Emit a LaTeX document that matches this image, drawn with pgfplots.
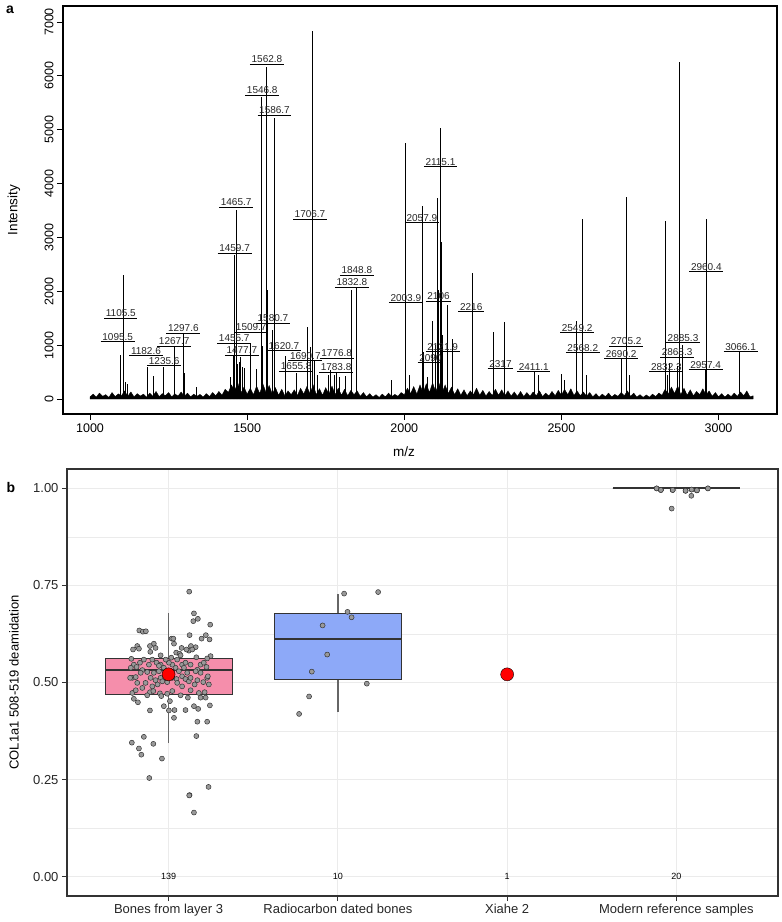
\documentclass[border=0pt]{standalone}
\usepackage{fontspec}
\setmainfont{Liberation Sans}
\usepackage{pgfplots}
\pgfplotsset{compat=1.18}
\usepgfplotslibrary{statistics}

\definecolor{gridc}{HTML}{EBEBEB}
\definecolor{pinkbox}{HTML}{F58EAB}
\definecolor{bluebox}{HTML}{8DA9F8}
\definecolor{ggdark}{HTML}{333333}

% peak label: text sitting on a short bar
\newcommand\pk[3]{\node[anchor=south, inner xsep=1.5pt, inner ysep=1pt,
  font=\fontsize{10}{11}\selectfont, text=black!85] (pk) at (axis cs:#1,#2) {#3};
  \draw[line width=0.9pt] (pk.south west) -- (pk.south east);}

\begin{document}
\begin{tikzpicture}[x=1pt, y=1pt]
\path[use as bounding box] (0,0) rectangle (782,922);

% ---------------- (a) spectrum ----------------
\begin{axis}[at={(63pt,508pt)}, anchor=south west, scale only axis,
  width=714pt, height=408pt,
  xmin=914, xmax=3186, ymin=-278, ymax=7297,
  xtick={1000,1500,...,3000}, ytick={0,1000,...,7000},
  tick align=outside, xtick pos=bottom, ytick pos=left,
  major tick length=6pt, tick style={black, line width=0.8pt},
  axis line style={line width=1.4pt},
  scaled ticks=false,
  /pgf/number format/1000 sep={}, /pgf/number format/assume math mode=true,
  ticklabel style={font=\fontsize{12.5}{13}\selectfont},
  yticklabel style={rotate=90, anchor=south}]
% baseline noise
\addplot[fill=black, draw=black, line width=0.4pt] coordinates {
(1000,0)
(1000,40)(1010,90)(1020,35)(1030,110)(1040,50)(1050,80)(1060,30)(1070,120)(1080,45)(1090,95)
(1100,60)(1110,150)(1120,50)(1130,130)(1140,40)(1150,100)(1160,55)(1170,90)(1180,35)(1190,110)
(1200,50)(1210,140)(1220,45)(1230,100)(1240,60)(1250,120)(1260,40)(1270,95)(1280,55)(1290,130)
(1300,45)(1310,110)(1320,40)(1330,90)(1340,50)(1350,85)(1360,35)(1370,100)(1380,45)(1390,120)
(1400,60)(1410,140)(1420,70)(1430,180)(1440,120)(1450,260)(1460,150)(1470,300)(1480,110)(1490,220)
(1500,90)(1510,200)(1520,80)(1530,240)(1540,100)(1550,280)(1560,120)(1570,250)(1580,90)(1590,210)
(1600,70)(1610,180)(1620,60)(1630,150)(1640,80)(1650,170)(1660,65)(1670,200)(1680,90)(1690,230)
(1700,100)(1710,260)(1720,80)(1730,190)(1740,70)(1750,210)(1760,90)(1770,240)(1780,80)(1790,200)
(1800,70)(1810,180)(1820,60)(1830,160)(1840,80)(1850,150)(1860,50)(1870,120)(1880,40)(1890,100)
(1900,35)(1910,80)(1920,30)(1930,90)(1940,40)(1950,110)(1960,45)(1970,85)(1980,50)(1990,120)
(2000,80)(2010,200)(2020,100)(2030,230)(2040,90)(2050,260)(2060,110)(2070,280)(2080,120)(2090,300)
(2100,130)(2110,300)(2120,110)(2130,260)(2140,100)(2150,220)(2160,80)(2170,190)(2180,70)(2190,170)
(2200,60)(2210,150)(2220,80)(2230,200)(2240,70)(2250,160)(2260,55)(2270,140)(2280,65)(2290,180)
(2300,70)(2310,170)(2320,60)(2330,150)(2340,55)(2350,130)(2360,50)(2370,140)(2380,45)(2390,120)
(2400,50)(2410,130)(2420,60)(2430,150)(2440,45)(2450,110)(2460,55)(2470,140)(2480,60)(2490,160)
(2500,70)(2510,180)(2520,80)(2530,190)(2540,65)(2550,150)(2560,60)(2570,130)(2580,50)(2590,120)
(2600,40)(2610,100)(2620,35)(2630,90)(2640,45)(2650,110)(2660,40)(2670,85)(2680,50)(2690,120)
(2700,60)(2710,150)(2720,50)(2730,110)(2740,35)(2750,80)(2760,30)(2770,75)(2780,35)(2790,90)
(2800,45)(2810,110)(2820,70)(2830,180)(2840,90)(2850,220)(2860,100)(2870,240)(2880,80)(2890,200)
(2900,70)(2910,170)(2920,60)(2930,140)(2940,80)(2950,190)(2960,70)(2970,150)(2980,50)(2990,120)
(3000,40)(3010,100)(3020,35)(3030,90)(3040,45)(3050,110)(3060,50)(3070,130)(3080,60)(3090,150)
(3100,40)(3110,60)(3110,0)} -- cycle;
% peaks
\addplot[ycomb, no marks, black, line width=0.8pt] coordinates {
(1095.5,817) (1105.5,2300) (1114,320) (1118,280) (1183,600) (1202,430)
(1235,600) (1267.7,970) (1297.6,1220) (1300,475) (1338,230) (1446,410)
(1455.7,817) (1459.7,2670) (1465.7,3510) (1470,650) (1474,690) (1477.7,780)
(1484,600) (1490,575) (1509.7,1040) (1530,560) (1546.8,5610) (1548,990)
(1562.8,6170) (1565,2020) (1580.7,1290) (1586.7,5210) (1588,1745)
(1620.7,800) (1655.8,475) (1690.7,1340) (1700,970) (1706.7,6830)
(1714,700) (1724,450) (1758,445) (1764,540) (1776.8,445) (1783.8,510)
(1793,400) (1812,420) (1832.8,2020) (1848.8,2055) (1960,350)
(2003.9,4760) (2015,450) (2057.9,3585) (2060,870) (2075,400) (2090,1450)
(2099,1000) (2106,3725) (2110,2020) (2115.1,5040) (2117,2920) (2121.9,1190)
(2136,1745) (2152,1110) (2216,2345) (2284,1250) (2317,1425) (2414,505)
(2427,445) (2501,460) (2510,350) (2549.2,1455) (2568.2,3350) (2580,450)
(2690.2,755) (2705.2,3745) (2715,450) (2832.3,3310) (2836,455) (2845,670)
(2868.3,620) (2876,6250) (2885.3,1000) (2957.4,560) (2960.4,3350)
(2962,2380) (3066.1,880)};
\pk{1563}{6215}{1562.8}
\pk{1548}{5640}{1546.8}
\pk{1587}{5270}{1586.7}
\pk{1465}{3560}{1465.7}
\pk{1460}{2710}{1459.7}
\pk{1700}{3340}{1706.7}
\pk{1849}{2300}{1848.8}
\pk{1833}{2075}{1832.8}
\pk{1098}{1505}{1105.5}
\pk{1088}{1060}{1095.5}
\pk{1297}{1225}{1297.6}
\pk{1268}{985}{1267.7}
\pk{1178}{800}{1182.6}
\pk{1236}{615}{1235.6}
\pk{1582}{1410}{1580.7}
\pk{1513}{1245}{1509.7}
\pk{1459}{1040}{1455.7}
\pk{1483}{815}{1477.7}
\pk{1617}{900}{1620.7}
\pk{1685}{715}{1690.7}
\pk{1785}{760}{1776.8}
\pk{1656}{520}{1655.8}
\pk{1783}{500}{1783.8}
\pk{2115}{4320}{2115.1}
\pk{2056}{3280}{2057.9}
\pk{2005}{1790}{2003.9}
\pk{2109}{1820}{2106}
\pk{2213}{1620}{2216}
\pk{2122}{880}{2121.9}
\pk{2083}{675}{2090}
\pk{2306}{570}{2317}
\pk{2412}{505}{2411.1}
\pk{2550}{1230}{2549.2}
\pk{2568}{860}{2568.2}
\pk{2706}{985}{2705.2}
\pk{2690}{755}{2690.2}
\pk{2887}{1045}{2885.3}
\pk{2868}{775}{2868.3}
\pk{2834}{505}{2832.3}
\pk{2959}{540}{2957.4}
\pk{2961}{2360}{2960.4}
\pk{3070}{880}{3066.1}
\end{axis}
\node[rotate=90, font=\fontsize{13.5}{14}\selectfont] at (14,712) {Intensity};
\node[font=\fontsize{13.5}{14}\selectfont] at (404,470) {m/z};
\node[font=\fontsize{14}{15}\selectfont\bfseries] at (10,912) {a};

% ---------------- (b) deamidation ----------------
\begin{axis}[at={(67pt,26pt)}, anchor=south west, scale only axis,
  width=711pt, height=427pt,
  xmin=0.4, xmax=4.6, ymin=-0.05, ymax=1.05,
  xtick={1,2,3,4},
  xticklabels={Bones from layer 3, Radiocarbon dated bones, Xiahe 2,
    Modern reference samples},
  ytick={0,0.25,0.5,0.75,1}, yticklabels={0.00,0.25,0.50,0.75,1.00},
  minor ytick={0.125,0.375,0.625,0.875},
  grid=both, major grid style={gridc, line width=1pt},
  minor grid style={gridc, line width=0.6pt},
  tick align=outside, xtick pos=bottom, ytick pos=left,
  major tick length=5pt, minor tick length=0pt,
  tick style={ggdark, line width=1pt},
  axis line style={ggdark, line width=1.8pt},
  ticklabel style={font=\fontsize{13}{14}\selectfont, text=black!85},
  boxplot/draw direction=y,
  boxplot/box extend=0.75, boxplot/whisker extend=0,
  boxplot/every median/.style={line width=2pt},
  boxplot/every whisker/.style={draw=black!60, line width=1.3pt}]
\addplot[boxplot prepared={draw position=1, lower whisker=0.343,
  lower quartile=0.469, median=0.531, upper quartile=0.562,
  upper whisker=0.680}, fill=pinkbox, draw=ggdark, line width=0.9pt]
  coordinates {};
\addplot[boxplot prepared={draw position=2, lower whisker=0.423,
  lower quartile=0.508, median=0.611, upper quartile=0.678,
  upper whisker=0.729}, fill=bluebox, draw=ggdark, line width=0.9pt]
  coordinates {};
\addplot[boxplot prepared={draw position=4, lower whisker=1,
  lower quartile=1, median=1, upper quartile=1, upper whisker=1},
  draw=ggdark, line width=0.9pt] coordinates {};
% jittered samples
\addplot[only marks, mark=*, mark size=2.5pt,
  mark options={fill=black!40, draw=black!80, line width=0.5pt}] coordinates {
(1.122,0.734) (1.150,0.678) (1.146,0.658) (1.173,0.664) (1.246,0.649)
(0.827,0.634) (0.848,0.631) (0.866,0.632) (1.124,0.622) (1.220,0.622)
(1.195,0.613) (1.242,0.611) (1.018,0.613) (1.028,0.613) (0.913,0.600)
(0.890,0.594) (0.923,0.589) (0.815,0.594) (0.790,0.585) (0.825,0.587)
(1.032,0.600) (1.077,0.589) (1.132,0.594) (1.160,0.591) (1.045,0.577)
(1.065,0.574) (1.120,0.582) (0.892,0.579) (1.248,0.568) (1.228,0.562)
(1.164,0.565) (0.780,0.561) (0.904,0.559) (1.016,0.564) (0.831,0.551)
(0.795,0.546) (0.777,0.538) (0.811,0.540) (0.845,0.532) (0.884,0.546)
(0.929,0.551) (0.953,0.546) (0.972,0.538) (1.051,0.559) (1.080,0.546)
(1.100,0.551) (1.130,0.546) (1.189,0.546) (1.208,0.551) (1.224,0.540)
(1.091,0.538) (1.041,0.538) (1.022,0.546) (0.874,0.527) (0.913,0.525)
(0.943,0.529) (0.786,0.512) (0.806,0.514) (0.864,0.499) (0.894,0.512)
(0.923,0.506) (0.953,0.512) (0.992,0.501) (1.047,0.509) (1.080,0.516)
(1.100,0.509) (1.120,0.503) (1.130,0.512) (1.154,0.495) (1.205,0.501)
(1.228,0.512) (1.061,0.529) (1.170,0.533) (1.189,0.525) (0.786,0.473)
(0.806,0.480) (0.890,0.475) (0.910,0.478) (0.949,0.472) (0.992,0.471)
(1.071,0.467) (1.179,0.473) (1.213,0.475) (1.189,0.461) (1.219,0.461)
(0.795,0.458) (0.819,0.449) (0.957,0.465) (0.972,0.439) (1.008,0.452)
(1.150,0.439) (1.175,0.432) (1.244,0.441) (0.890,0.428) (1.035,0.429)
(1.100,0.429) (1.032,0.409) (1.170,0.399) (1.228,0.399) (0.854,0.360)
(1.164,0.362) (0.783,0.345) (0.910,0.342) (0.825,0.330) (0.839,0.314)
(0.961,0.304) (0.886,0.254) (1.124,0.210) (1.122,0.209) (1.236,0.231)
(1.150,0.165) (0.835,0.525) (1.002,0.551) (0.983,0.559) (1.106,0.585)
(1.140,0.585) (1.071,0.570) (0.953,0.570) (0.854,0.559) (0.773,0.512)
(1.232,0.516) (1.160,0.529) (1.110,0.525) (1.022,0.512) (0.963,0.503)
(0.904,0.490) (0.845,0.486) (1.130,0.480) (1.080,0.490) (1.022,0.478)
(1.238,0.495) (0.815,0.499) (0.935,0.495) (1.051,0.499) (1.170,0.506)
(0.874,0.467) (1.114,0.461) (1.002,0.428) (0.943,0.543)
(2.037,0.729) (2.238,0.733) (2.057,0.682) (2.081,0.668) (1.910,0.647)
(1.937,0.572) (1.846,0.528) (2.171,0.497) (1.830,0.464) (1.771,0.419)
(3.883,1.000) (3.908,0.996) (3.978,0.996) (4.054,0.994) (4.090,0.997)
(4.121,0.995) (4.186,1.000) (4.088,0.981) (3.972,0.948) (3.883,1.000)
(3.908,0.996) (3.978,0.996) (4.054,0.994) (4.090,0.997) (4.121,0.995)
(4.186,1.000) (3.978,0.996) (4.054,0.994) (4.121,0.995) (3.908,0.996)};
% Xiahe 2 and its position among the layer-3 bones
\addplot[only marks, mark=*, mark size=6.5pt, mark options={fill=red, draw=none}]
  coordinates {(1,0.521) (3,0.521)};
\node[font=\fontsize{9}{10}\selectfont] at (axis cs:1,0) {139};
\node[font=\fontsize{9}{10}\selectfont] at (axis cs:2,0) {10};
\node[font=\fontsize{9}{10}\selectfont] at (axis cs:3,0) {1};
\node[font=\fontsize{9}{10}\selectfont] at (axis cs:4,0) {20};
\end{axis}
\node[rotate=90, font=\fontsize{13}{14}\selectfont] at (14,239.5)
  {COL1a1 508-519 deamidation};
\node[font=\fontsize{14}{15}\selectfont\bfseries] at (11,435) {b};
\end{tikzpicture}
\end{document}
